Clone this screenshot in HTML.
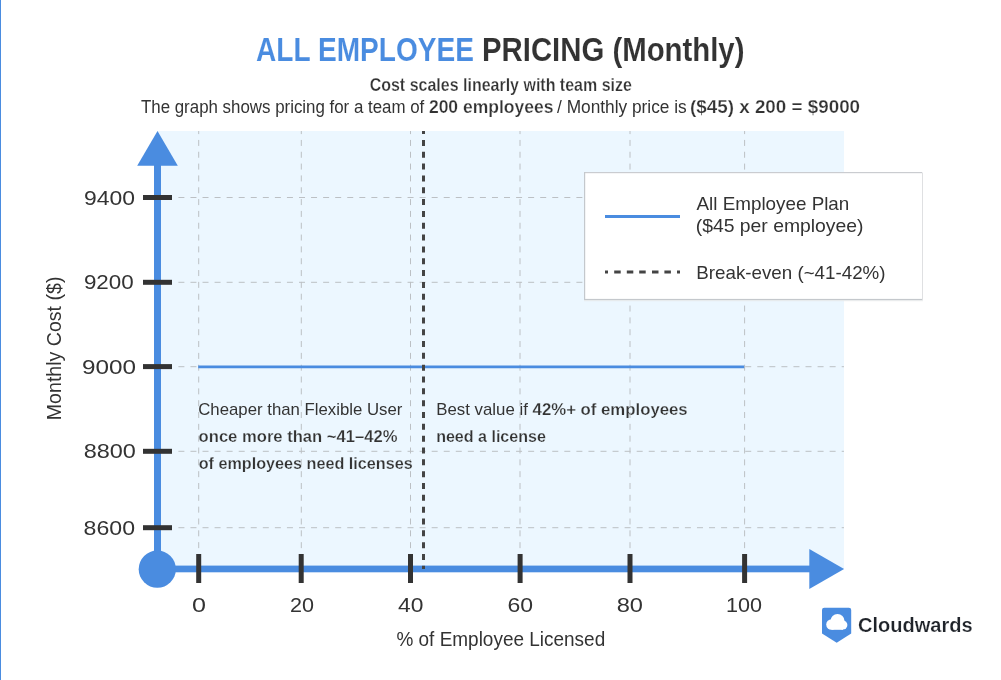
<!DOCTYPE html>
<html>
<head>
<meta charset="utf-8">
<style>
html,body{margin:0;padding:0;background:#fff;width:1001px;height:680px;overflow:hidden;}
svg{display:block;font-family:"Liberation Sans",sans-serif;will-change:transform;}
.t{fill:#333;}
.b{font-weight:bold;}
</style>
</head>
<body>
<svg width="1001" height="680" viewBox="0 0 1001 680">
<rect x="0" y="0" width="1001" height="680" fill="#fff"/>
<rect x="0" y="0" width="1" height="680" fill="#4a8ce0"/>

<!-- Plot background -->
<rect class="grid" x="157.5" y="131" width="686.5" height="438" fill="#ecf7ff"/>

<!-- Vertical gridlines -->
<defs><clipPath id="pc"><rect x="157.5" y="131" width="686.5" height="438"/></clipPath></defs>
<g class="grid" stroke="#bcc0c4" stroke-width="1" stroke-dasharray="6 5.83" clip-path="url(#pc)">
  <line x1="198.7" y1="128.1" x2="198.7" y2="569"/>
  <line x1="301.3" y1="128.1" x2="301.3" y2="569"/>
  <line x1="410.5" y1="128.1" x2="410.5" y2="569"/>
  <line x1="520" y1="128.1" x2="520" y2="569"/>
  <line x1="630" y1="128.1" x2="630" y2="569"/>
  <line x1="744.6" y1="128.1" x2="744.6" y2="569"/>
</g>
<!-- Horizontal gridlines -->
<g class="grid" stroke="#bcc0c4" stroke-width="1" stroke-dasharray="6 6.06">
  <line x1="178.4" y1="197.5" x2="844" y2="197.5"/>
  <line x1="178.4" y1="282.3" x2="844" y2="282.3"/>
  <line x1="178.4" y1="366.7" x2="844" y2="366.7"/>
  <line x1="178.4" y1="451.3" x2="844" y2="451.3"/>
  <line x1="178.4" y1="527.7" x2="844" y2="527.7"/>
</g>

<!-- Data line -->
<line x1="198.2" y1="366.9" x2="744.2" y2="366.9" stroke="#4a8ce0" stroke-width="2.8"/>


<!-- Axes -->
<rect x="154" y="160" width="7" height="410" fill="#4a8ce0"/>
<polygon points="157.5,131 137.2,165.8 177.8,165.8" fill="#4a8ce0"/>
<rect x="157" y="565.6" width="655" height="6.7" fill="#4a8ce0"/>
<polygon points="844.1,569 809.3,548.9 809.3,589" fill="#4a8ce0"/>
<circle cx="157.3" cy="569.2" r="18.6" fill="#4a8ce0"/>

<!-- Break-even dotted line -->
<line x1="423.5" y1="128.1" x2="423.5" y2="569" stroke="#444" stroke-width="3" stroke-dasharray="6 5.83" clip-path="url(#pc)"/>

<!-- Y ticks -->
<g fill="#333">
  <rect x="143" y="195" width="29" height="5"/>
  <rect x="143" y="279.8" width="29" height="5"/>
  <rect x="143" y="364.1" width="29" height="5"/>
  <rect x="143" y="448.8" width="29" height="5"/>
  <rect x="143" y="525.2" width="29" height="5"/>
</g>
<!-- X ticks -->
<g fill="#333">
  <rect x="196.2" y="554" width="5" height="29"/>
  <rect x="298.7" y="554" width="5" height="29"/>
  <rect x="408" y="554" width="5" height="29"/>
  <rect x="517.6" y="554" width="5" height="29"/>
  <rect x="627.5" y="554" width="5" height="29"/>
  <rect x="742.1" y="554" width="5" height="29"/>
</g>

<!-- Y tick labels -->
<g font-size="20.4" class="t">
  <text x="83.9" y="204.5" textLength="51" lengthAdjust="spacingAndGlyphs">9400</text>
  <text x="83.9" y="288.9" textLength="49.8" lengthAdjust="spacingAndGlyphs">9200</text>
  <text x="82.1" y="373.7" textLength="54" lengthAdjust="spacingAndGlyphs">9000</text>
  <text x="83.7" y="458.2" textLength="52.2" lengthAdjust="spacingAndGlyphs">8800</text>
  <text x="83.6" y="534.7" textLength="51.4" lengthAdjust="spacingAndGlyphs">8600</text>
</g>
<!-- X tick labels -->
<g font-size="19.5" class="t">
  <text x="192" y="611.6" textLength="14" lengthAdjust="spacingAndGlyphs">0</text>
  <text x="290" y="611.6" textLength="24" lengthAdjust="spacingAndGlyphs">20</text>
  <text x="398" y="611.6" textLength="25.4" lengthAdjust="spacingAndGlyphs">40</text>
  <text x="507.4" y="611.6" textLength="25.6" lengthAdjust="spacingAndGlyphs">60</text>
  <text x="616.7" y="611.6" textLength="26.3" lengthAdjust="spacingAndGlyphs">80</text>
  <text x="726" y="611.6" textLength="36" lengthAdjust="spacingAndGlyphs">100</text>
</g>

<!-- Axis titles -->
<text transform="translate(60.8,420.2) rotate(-90)" x="0" y="0" font-size="19.6" class="t" textLength="143.6" lengthAdjust="spacingAndGlyphs">Monthly Cost ($)</text>

<!-- Legend -->
<rect x="584" y="172" width="339" height="128" fill="#fff"/>
<rect x="584" y="172" width="338" height="1.2" fill="#caccd0"/>
<rect x="584" y="172" width="1.2" height="128" fill="#c4c8cc"/>
<rect x="922" y="172.5" width="1" height="127.5" fill="#dfe0e2"/>
<rect x="584" y="298.9" width="338" height="1.3" fill="#c4c8cc"/>
<rect x="584" y="300.2" width="339" height="1" fill="#e8eaec"/>
<rect x="605" y="215" width="75" height="3" fill="#4a8ce0"/>
<g fill="#444">
  <rect x="605" y="270.5" width="3" height="3"/>
  <rect x="614.2" y="270.5" width="6.5" height="3"/>
  <rect x="626.8" y="270.5" width="6.5" height="3"/>
  <rect x="639.2" y="270.5" width="6.5" height="3"/>
  <rect x="652" y="270.5" width="6.5" height="3"/>
  <rect x="664.4" y="270.5" width="6.5" height="3"/>
  <rect x="677" y="270.5" width="3" height="3"/>
</g>

<!-- Logo -->
<path d="M822,610 Q822,607.7 824.3,607.7 L848.9,607.7 Q851.2,607.7 851.2,610 L851.2,633.5 L836.7,642.8 L822,633.5 Z" fill="#4a8ce0"/>
<g fill="#fff">
  <circle cx="831.5" cy="624.5" r="5.3"/>
  <circle cx="837.5" cy="621" r="7"/>
  <circle cx="842.8" cy="625" r="4.6"/>
  <rect x="831.5" y="624" width="11.5" height="5.8"/>
</g>
<text x="256.08" y="60.6" font-size="33" font-weight="bold" stroke="#fff" stroke-width="0.1" fill="#4a8ce0" textLength="217.84" lengthAdjust="spacingAndGlyphs">ALL EMPLOYEE</text>
<text x="481.98" y="60.6" font-size="33" font-weight="bold" stroke="#fff" stroke-width="0.1" fill="#333" textLength="262.47" lengthAdjust="spacingAndGlyphs">PRICING (Monthly)</text>
<text x="369.67" y="91.0" font-size="17.8" font-weight="bold" stroke="#fff" stroke-width="0.25" fill="#333" textLength="262.22" lengthAdjust="spacingAndGlyphs">Cost scales linearly with team size</text>
<text x="140.96" y="113.3" font-size="17.5" fill="#333" textLength="283.36" lengthAdjust="spacingAndGlyphs">The graph shows pricing for a team of</text>
<text x="428.90" y="113.3" font-size="17.5" font-weight="bold" stroke="#fff" stroke-width="0.25" fill="#333" textLength="124.61" lengthAdjust="spacingAndGlyphs">200 employees</text>
<text x="557.09" y="113.3" font-size="17.5" fill="#333" textLength="129.65" lengthAdjust="spacingAndGlyphs">/ Monthly price is</text>
<text x="690.02" y="113.3" font-size="17.5" font-weight="bold" stroke="#fff" stroke-width="0.25" fill="#333" textLength="170.07" lengthAdjust="spacingAndGlyphs">($45) x 200 = $9000</text>
<text x="396.42" y="646.0" font-size="19.6" fill="#333" textLength="208.78" lengthAdjust="spacingAndGlyphs">% of Employee Licensed</text>
<text x="198.22" y="415.1" font-size="17" fill="#333" textLength="204.22" lengthAdjust="spacingAndGlyphs">Cheaper than Flexible User</text>
<text x="198.60" y="442.1" font-size="17.4" font-weight="bold" stroke="#ecf7ff" stroke-width="0.25" fill="#333" textLength="198.94" lengthAdjust="spacingAndGlyphs">once more than ~41–42%</text>
<text x="198.64" y="468.5" font-size="17.4" font-weight="bold" stroke="#ecf7ff" stroke-width="0.25" fill="#333" textLength="214.13" lengthAdjust="spacingAndGlyphs">of employees need licenses</text>
<text x="436.30" y="415.1" font-size="17" fill="#333" textLength="91.58" lengthAdjust="spacingAndGlyphs">Best value if</text>
<text x="532.59" y="415.1" font-size="17.4" font-weight="bold" stroke="#ecf7ff" stroke-width="0.25" fill="#333" textLength="155.13" lengthAdjust="spacingAndGlyphs">42%+ of employees</text>
<text x="436.14" y="442.2" font-size="17.4" font-weight="bold" stroke="#ecf7ff" stroke-width="0.25" fill="#333" textLength="109.77" lengthAdjust="spacingAndGlyphs">need a license</text>
<text x="696.51" y="210.3" font-size="18.6" fill="#333" textLength="152.83" lengthAdjust="spacingAndGlyphs">All Employee Plan</text>
<text x="695.71" y="231.8" font-size="18.6" fill="#333" textLength="167.77" lengthAdjust="spacingAndGlyphs">($45 per employee)</text>
<text x="696.26" y="278.9" font-size="18.6" fill="#333" textLength="189.28" lengthAdjust="spacingAndGlyphs">Break-even (~41-42%)</text>
<text x="858.02" y="632.3" font-size="19.5" font-weight="bold" stroke="#fff" stroke-width="0.2" fill="#1f2329" textLength="114.68" lengthAdjust="spacingAndGlyphs">Cloudwards</text>
</svg>
</body>
</html>
